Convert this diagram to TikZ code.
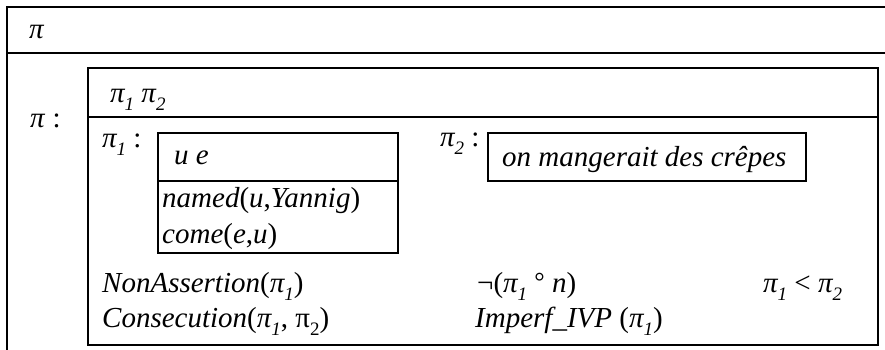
\documentclass[tikz,border=0pt]{standalone}
\usepackage{fontspec}
\setmainfont{Liberation Serif}
\newcommand\sbs[1]{\raisebox{-0.3em}{\fontsize{19}{19}\selectfont #1}}
\newcommand\piI{\textit{π\sbs{1}}}
\newcommand\piII{\textit{π\sbs{2}}}
\begin{document}
\begin{tikzpicture}[x=1pt,y=-1pt,
  txt/.style={anchor=base west,inner sep=0pt,font=\fontsize{29}{35}\selectfont},
  rule/.style={line width=1.1pt,line cap=rect}]
\useasboundingbox (0,0) rectangle (885,349);
\clip (0,0) rectangle (885,349);
% outer box
\draw[rule] (7,360) -- (7,7) -- (900,7);
\draw[rule] (7,53) -- (900,53);
% inner box
\draw[rule] (88,68) rectangle (878,345);
\draw[rule] (88,117) -- (878,117);
% pi1 box
\draw[rule] (158,133) rectangle (398,253);
\draw[rule] (158,181) -- (398,181);
% pi2 box
\draw[rule] (488,133) rectangle (806,181);
% texts
\node[txt] (top) at (29,38) {\textit{π}};
\node[txt] (pilab) at (30,127) {\textit{π} :};
\node[txt] (head) at (110,102) {\piI\ \piII};
\node[txt] (p1lab) at (102,147) {\piI\ :};
\node[txt] (ue) at (174,164) {\textit{u e}};
\node[txt] (named) at (162,207) {\textit{named}(\textit{u},\textit{Yannig})};
\node[txt] (come) at (162,243) {\textit{come}(\textit{e},\textit{u})};
\node[txt] (p2lab) at (440,146) {\piII\ :};
\node[txt] (crepes) at (502,166) {\textit{on mangerait des crêpes}};
\node[txt] (nonass) at (102,292) {\textit{NonAssertion}(\piI)};
\node[txt] (consec) at (102,327) {\textit{Consecution}(\piI, π\sbs{2})};
\node[txt] (neg) at (477,292) {¬(\piI\ \raisebox{0.05em}{\fontsize{26}{26}\selectfont °} \textit{n})};
\node[txt] (imperf) at (475,327) {\textit{Imperf\_IVP} (\piI)};
\node[txt] (prec) at (763,292) {\piI\ < \piII};
\end{tikzpicture}
\end{document}
